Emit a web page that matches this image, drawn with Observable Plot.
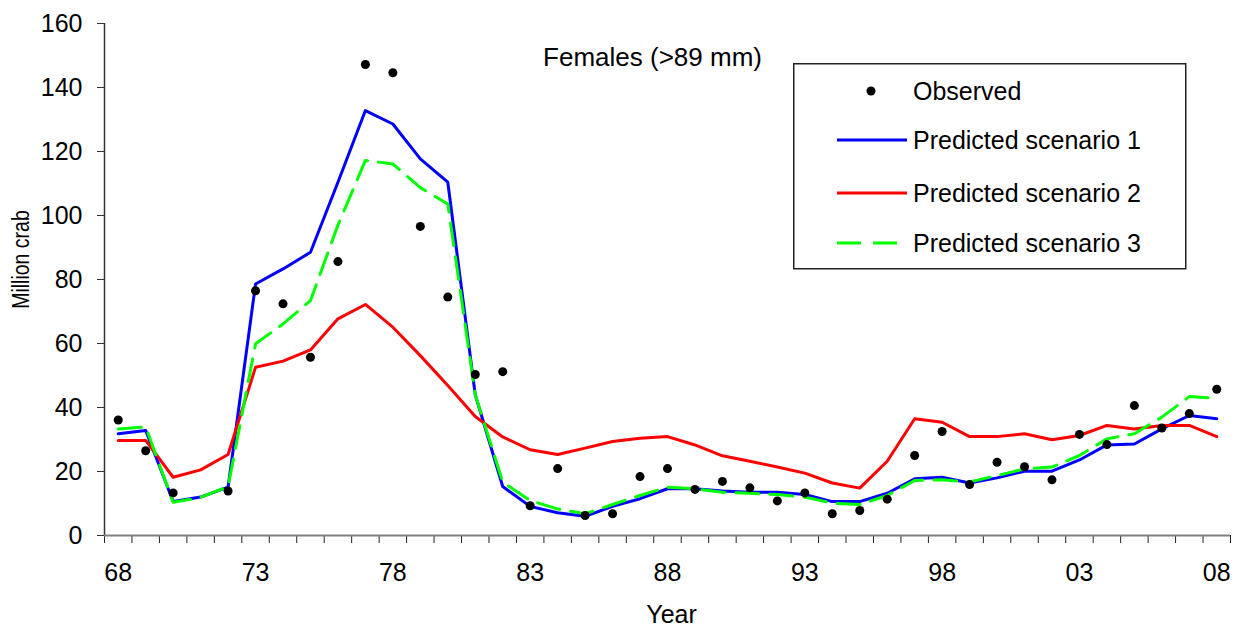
<!DOCTYPE html>
<html>
<head>
<meta charset="utf-8">
<script src="https://cdn.jsdelivr.net/npm/d3@7"></script>
<script src="https://cdn.jsdelivr.net/npm/@observablehq/plot@0.6"></script>
<style>
  body { margin: 0; background: #fff; }
  #wrap { position: relative; width: 1242px; height: 629px; font-family: "Liberation Sans", Arial, sans-serif; }
  #legend { position: absolute; left: 793px; top: 63px; }
</style>
</head>
<body>
<div id="wrap"></div>
<script>
const years = [1968,1969,1970,1971,1972,1973,1974,1975,1976,1977,
               1978,1979,1980,1981,1982,1983,1984,1985,1986,1987,
               1988,1989,1990,1991,1992,1993,1994,1995,1996,1997,
               1998,1999,2000,2001,2002,2003,2004,2005,2006,2007,2008];
const observed = [36.1,26.5,13.3,null,13.9,76.5,72.4,55.7,85.6,147.2,
                  144.6,96.6,74.5,50.3,51.2,9.3,20.9,6.25,6.8,18.4,
                  20.9,14.4,16.9,14.9,10.8,13.3,6.8,7.8,11.35,25.0,
                  32.5,15.9,22.9,21.5,17.4,31.6,28.4,40.6,33.6,38.1,45.7];
const scenario1 = [31.8,32.8,10.6,12.0,15.1,78.6,83.3,88.5,110.4,132.8,
                   128.6,117.7,110.4,44.0,15.3,9.1,7.1,6.0,9.1,11.5,
                   14.6,14.6,13.9,13.5,13.5,12.8,10.6,10.6,13.2,17.7,
                   18.2,16.4,18.0,20.1,20.1,23.6,28.3,28.6,33.3,37.5,36.5];
const scenario2 = [29.7,29.7,18.2,20.5,25.3,52.6,54.5,58.0,67.7,72.2,
                   65.1,56.2,46.9,37.2,30.8,26.8,25.3,27.3,29.4,30.4,
                   30.9,28.3,24.9,23.2,21.4,19.5,16.4,14.8,23.2,36.5,
                   35.4,30.9,30.9,31.8,29.9,31.25,34.4,33.3,34.4,34.4,30.9];
const scenario3 = [33.3,33.9,10.4,11.9,15.3,59.9,66.1,73.4,97.0,117.2,
                   116.1,108.7,103.6,44.0,16.7,10.9,8.3,6.8,9.7,12.5,
                   15.1,14.6,13.5,13.2,12.8,12.0,10.1,9.7,12.5,17.2,
                   17.4,16.7,18.75,20.8,21.4,25.0,30.2,31.8,37.0,43.4,42.9];
const labelYears = [1968,1973,1978,1983,1988,1993,1998,2003,2008];
const tickLabels = ["68","73","78","83","88","93","98","03","08"];
const yTicks = [0,20,40,60,80,100,120,140,160];
const titleText = "Females (>89 mm)";
const xLabel = "Year";
const yLabel = "Million crab";
const legendLabels = ["Observed","Predicted scenario 1","Predicted scenario 2","Predicted scenario 3"];
const colors = {s1: "#0000ff", s2: "#ff0000", s3: "#00ff00"};

const data = years.map((year, i) => ({year, observed: observed[i], s1: scenario1[i], s2: scenario2[i], s3: scenario3[i]}));
const boundaries = years.map(y => y - 0.5).concat([years[years.length - 1] + 0.5]);

const plot = Plot.plot({
  width: 1242, height: 629,
  marginLeft: 104, marginRight: 12, marginTop: 23, marginBottom: 94,
  style: {fontFamily: "'Liberation Sans', Arial, sans-serif", fontSize: "25px", background: "white", color: "#000", overflow: "visible"},
  x: {domain: [boundaries[0], boundaries[boundaries.length - 1]]},
  y: {domain: [0, 160]},
  marks: [
    Plot.axisY({ticks: yTicks, tickSize: 7, tickPadding: 15, label: null, stroke: "#333", fontSize: 25}),
    Plot.axisX({ticks: boundaries, tickSize: 8, tickFormat: () => "", label: null, stroke: "#222"}),
    Plot.axisX({ticks: labelYears, tickSize: 0, tickPadding: 28, tickFormat: d => tickLabels[labelYears.indexOf(d)], label: null, fontSize: 25}),
    Plot.ruleX([boundaries[0]], {stroke: "#333", strokeWidth: 1.5}),
    Plot.ruleY([0], {stroke: "#808080", strokeWidth: 2}),
    Plot.line(data, {x: "year", y: "s1", stroke: colors.s1, strokeWidth: 3}),
    Plot.line(data, {x: "year", y: "s2", stroke: colors.s2, strokeWidth: 3}),
    Plot.line(data, {x: "year", y: "s3", stroke: colors.s3, strokeWidth: 3, strokeDasharray: "23 11"}),
    Plot.dot(data.filter(d => d.observed != null), {x: "year", y: "observed", r: 4.5, fill: "#000", stroke: null}),
    Plot.text([titleText], {text: d => d, frameAnchor: "top", textAnchor: "middle", dx: -15, dy: 24.5, fontSize: 26}),
    Plot.text([xLabel], {text: d => d, frameAnchor: "bottom", textAnchor: "middle", lineAnchor: "top", dx: 4, dy: 70, fontSize: 25}),
    Plot.text([yLabel], {text: d => d, frameAnchor: "left", textAnchor: "middle", rotate: -90, dx: -83, dy: -20, fontSize: 19.5})
  ]
});
const wrap = document.getElementById("wrap");
wrap.appendChild(plot);

// widen the rotated axis title a little, as in the reference
d3.select(plot).selectAll("text").filter(function() { return this.textContent === yLabel; })
  .each(function() {
    const t = this.getAttribute("transform") || "";
    this.setAttribute("transform", t + " scale(1,1.25)");
  });

// Legend overlay inside the plotting area
const lg = d3.select(wrap).append("svg").attr("id", "legend")
  .attr("width", 394).attr("height", 207)
  .style("font-family", "'Liberation Sans', Arial, sans-serif").style("font-size", "25px");
lg.append("rect").attr("x", 0.75).attr("y", 0.75).attr("width", 392).attr("height", 205)
  .attr("fill", "white").attr("stroke", "#222").attr("stroke-width", 1.5);
const rowsY = [28, 77, 130, 180];
const swatch = [
  {type: "dot"},
  {type: "line", color: colors.s1},
  {type: "line", color: colors.s2},
  {type: "line", color: colors.s3, dash: "24 12", x2: 104}
];
legendLabels.forEach((lab, i) => {
  const y = rowsY[i];
  const s = swatch[i];
  if (s.type === "dot") {
    lg.append("circle").attr("cx", 78).attr("cy", y).attr("r", 4.5).attr("fill", "#000");
  } else {
    lg.append("line").attr("x1", 44).attr("x2", s.x2 || 114).attr("y1", y).attr("y2", y)
      .attr("stroke", s.color).attr("stroke-width", 3).attr("stroke-dasharray", s.dash || null);
  }
  lg.append("text").attr("x", 120).attr("y", y).attr("dy", "0.35em").attr("fill", "#000").text(lab);
});
</script>
</body>
</html>
